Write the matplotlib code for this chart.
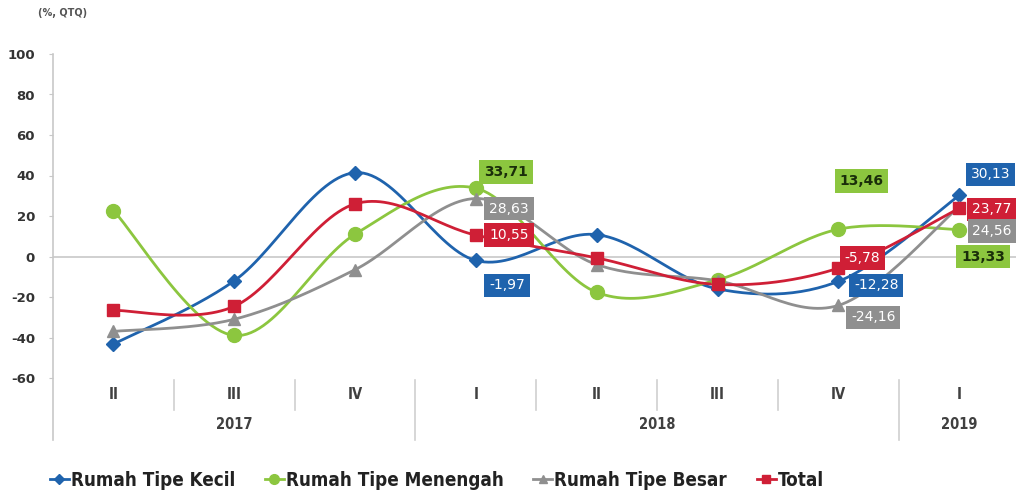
import numpy as np
import matplotlib.pyplot as plt
from matplotlib.lines import Line2D

plt.rcParams["axes.unicode_minus"] = False

quarters = ["II", "III", "IV", "I", "II", "III", "IV", "I"]
years = ["2017", "2018", "2019"]
year_pos = [1, 4.5, 7]
year_breaks = [2.5, 6.5]

kecil = [-43.3, -12.0, 41.4, -1.97, 10.8, -16.0, -12.28, 30.13]
menengah = [22.7, -39.0, 11.0, 33.71, -17.7, -11.5, 13.46, 13.33]
besar = [-37.0, -31.0, -6.5, 28.63, -4.0, -12.0, -24.16, 24.56]
total = [-26.6, -24.6, 26.0, 10.55, -0.7, -13.8, -5.78, 23.77]

names = ["Rumah Tipe Kecil", "Rumah Tipe Menengah", "Rumah Tipe Besar", "Total"]
colors = ["#1f63ad", "#8cc63f", "#8f8f8f", "#cf1f36"]
markers = ["D", "o", "^", "s"]
msizes = [7, 10, 9, 8]

# labelled points: (series index, point index, x offset px, y offset px)
labels = [
    (1, 3, 30, 16), (2, 3, 33, -10), (3, 3, 33, 0), (0, 3, 31, -25),
    (1, 6, 23, 48), (3, 6, 24, 10), (0, 6, 38, -4), (2, 6, 35, -12),
    (0, 7, 31, 21), (3, 7, 32, -1), (2, 7, 33, -24), (1, 7, 24, -27),
]


def smooth(x, y, n=30):
    pts = np.column_stack([x, y]).astype(float)
    out = [pts[0]]
    for i in range(len(pts) - 1):
        p0 = pts[max(i - 1, 0)]
        p1 = pts[i]
        p2 = pts[i + 1]
        p3 = pts[min(i + 2, len(pts) - 1)]
        c1 = p1 + (p2 - p0) / 6
        c2 = p2 - (p3 - p1) / 6
        t = np.linspace(0, 1, n)[1:, None]
        seg = ((1 - t) ** 3) * p1 + 3 * ((1 - t) ** 2) * t * c1 + 3 * (1 - t) * t ** 2 * c2 + t ** 3 * p2
        out.extend(seg)
    out = np.array(out)
    return out[:, 0], out[:, 1]


fig = plt.figure(figsize=(10.16, 4.9), dpi=100)
ax = fig.add_axes([53 / 1016, 1 - 378 / 490, 963 / 1016, 324 / 490])

x = np.arange(len(quarters))
series = [kecil, menengah, besar, total]
for s, c, m, ms in zip(series, colors, markers, msizes):
    sx, sy = smooth(x, s)
    ax.plot(sx, sy, color=c, lw=2, zorder=3)
    ax.plot(x, s, linestyle="none", marker=m, color=c, markersize=ms, zorder=4)

for si, pi, dx, dy in labels:
    c = colors[si]
    tc = "#1a2e0a" if si == 1 else "white"
    ax.annotate(f"{series[si][pi]:.2f}".replace(".", ","), (x[pi], series[si][pi]),
                xytext=(dx, dy), textcoords="offset pixels", ha="center", va="center",
                fontsize=10, fontweight="bold" if si == 1 else "normal", color=tc,
                bbox=dict(boxstyle="square,pad=0.35", fc=c, ec="none"), zorder=6)

ax.set_xlim(-0.5, 7.47)
ax.set_ylim(-60, 100)
ax.set_yticks(range(-60, 101, 20))
ax.set_xticks([])
for sp in ax.spines.values():
    sp.set_visible(False)
ax.tick_params(axis="y", length=3, color="#c8c8c8", labelsize=9.5, labelcolor="#333333", pad=10)
for t in ax.get_yticklabels():
    t.set_fontweight("bold")
ax.axhline(0, color="#c8c8c8", lw=1.2, zorder=1)

trans = ax.get_xaxis_transform()
ax.plot([-0.5, -0.5], [1.0, -0.19], color="#c8c8c8", lw=1.2, transform=trans, clip_on=False)
for b in np.arange(0.5, 7, 1):
    low = -0.19 if b in year_breaks else -0.1
    ax.plot([b, b], [-0.006, low], color="#d0d0d0", lw=1.2, transform=trans, clip_on=False)
for xi, q in zip(x, quarters):
    ax.text(xi, -0.052, q, transform=trans, ha="center", va="center", fontsize=10.5,
            fontweight="bold", fontstretch="condensed", color="#404040")
for xp, yr in zip(year_pos, years):
    ax.text(xp, -0.145, yr, transform=trans, ha="center", va="center", fontsize=10.5,
            fontweight="bold", fontstretch="condensed", color="#404040")

fig.text(38 / 1016, 1 - 16 / 490, "(%, QTQ)", fontsize=7, fontweight="bold", color="#555555")

handles = [Line2D([], [], color=c, marker=m, lw=2, markersize=ms * 0.7)
           for c, m, ms in zip(colors, markers, msizes)]
leg = fig.legend(handles, names, loc="center left", bbox_to_anchor=(50 / 1016, 0.02), ncol=4,
                 frameon=False, handlelength=1.0, handletextpad=0.1, columnspacing=1.6,
                 borderpad=0, borderaxespad=0,
                 prop={"weight": "bold", "size": 13.5, "stretch": "condensed"})
for t in leg.get_texts():
    t.set_color("#222222")

fig.savefig("out.png", dpi=100)
